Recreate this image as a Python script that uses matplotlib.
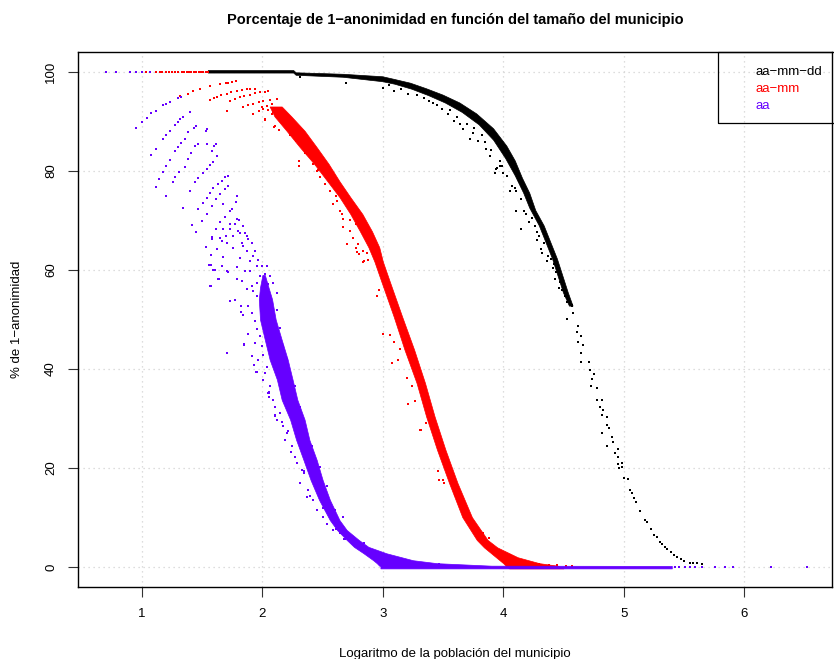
import numpy as np
import matplotlib
matplotlib.use("Agg")
import matplotlib.pyplot as plt
from matplotlib.patches import Rectangle

plt.rcParams['font.family'] = ['Liberation Sans', 'DejaVu Sans']

# colores de las series
col_dd = '#000000'
col_mm = '#ff0000'
col_aa = '#6600ff'

labels = ['aa\u2212mm\u2212dd', 'aa\u2212mm', 'aa']

# ---------------- aa-mm-dd (negro) ----------------
# contorno del núcleo denso: borde superior y luego borde inferior (vuelta)
dd_edge_x = [1.55, 2.26, 2.28, 2.67, 3.00, 3.09, 3.23, 3.36, 3.50, 3.64, 3.78, 3.92, 4.03,
             4.10, 4.16, 4.22, 4.27, 4.34, 4.45, 4.54, 4.58,
             4.55, 4.50, 4.41, 4.30, 4.22, 4.17, 4.10, 4.02, 3.92, 3.80, 3.66, 3.52, 3.38,
             3.24, 3.10, 3.00, 2.67, 2.28, 2.26, 1.55]
dd_edge_y = [100.25, 100.25, 99.8, 99.5, 99.0, 98.5, 97.7, 96.6, 95.3, 93.7, 91.5, 88.5, 85.0,
             82.0, 78.5, 75.5, 72.0, 68.9, 62.2, 55.4, 52.7,
             52.7, 55.4, 62.2, 68.9, 72.5, 75.5, 79.0, 82.5, 86.2, 89.3, 91.8, 93.7, 95.2,
             96.5, 97.5, 98.0, 98.9, 99.3, 99.75, 99.75]
# puntos sueltos
dd_x = [2.31, 2.69, 3.00, 3.09, 3.21, 3.34, 3.42, 3.49, 3.54, 3.59, 3.64, 3.67, 3.72,
        3.75, 3.79, 3.86, 3.89, 3.93, 3.94, 3.95, 3.97, 3.99, 4.03, 4.06, 4.10, 4.11,
        4.11, 4.13, 4.15, 4.15, 4.17, 4.21, 4.22, 4.28, 4.28, 4.32, 4.33, 4.36, 4.38,
        4.40, 4.43, 4.44, 4.46, 4.51, 4.57,
        3.05, 3.15, 3.28, 3.38, 3.45, 3.56, 3.62, 3.70, 3.76, 3.82, 3.85, 3.90, 3.97,
        4.00, 4.07, 4.19, 4.24, 4.26, 4.30, 4.31, 4.34, 4.37, 4.41, 4.42, 4.47, 4.49,
        4.53, 4.57, 4.58, 4.53, 4.62, 4.61, 4.65, 4.62, 4.66, 4.65, 4.71, 4.65, 4.72,
        4.75, 4.74, 4.78, 4.73, 4.78, 4.82, 4.80, 4.83, 4.82, 4.86, 4.86, 4.88, 4.82,
        4.90, 4.91, 4.86, 4.95, 4.93, 4.95, 4.95, 4.99, 4.99, 4.96, 5.00, 5.04, 5.05,
        5.07, 5.09, 5.10, 5.14, 5.18, 5.19, 5.23, 5.25, 5.28, 5.30, 5.32, 5.34, 5.36,
        5.39, 5.42, 5.44, 5.48, 5.50, 5.55, 5.58, 5.61, 5.65]
dd_y = [98.9, 97.8, 96.8, 96.2, 95.5, 94.8, 93.8, 92.4, 91.4, 90.1, 89.4, 88.4, 86.4,
        87.7, 86.0, 84.4, 83.0, 79.6, 80.4, 80.6, 82.0, 81.0, 79.0, 76.0, 76.6, 71.9,
        75.9, 77.9, 68.2, 74.3, 71.9, 69.6, 73.6, 66.0, 67.6, 63.5, 67.6, 61.8, 64.9,
        62.2, 58.1, 59.5, 56.4, 54.7, 52.7,
        97.3, 96.5, 95.3, 94.2, 93.4, 92.2, 90.8, 89.5, 88.6, 87.2, 85.8, 84.2, 80.9,
        79.5, 77.0, 71.2, 70.5, 68.8, 66.8, 64.2, 65.5, 62.9, 60.4, 61.3, 57.6, 55.9,
        53.6, 53.0, 51.4, 50.0, 48.6, 47.4, 46.6, 45.5, 44.9, 43.3, 41.5, 41.5, 39.9,
        38.9, 37.9, 36.2, 36.6, 33.8, 33.8, 32.4, 31.8, 30.8, 30.4, 28.7, 28.1, 27.1,
        26.3, 25.3, 24.5, 23.9, 23.1, 22.3, 20.9, 21.1, 20.2, 20.0, 18.0, 17.8, 15.6,
        15.0, 14.0, 13.2, 11.3, 9.5, 9.1, 7.7, 6.5, 6.1, 5.1, 4.7, 4.0, 3.6,
        3.0, 2.4, 2.0, 1.6, 1.2, 0.8, 0.8, 0.8, 0.6]

# ---------------- aa-mm (rojo) ----------------
# núcleo denso: para cada nivel y, x izquierda / derecha
mm_band_y = [-0.25, 0.3, 0.8, 2.0, 4.0, 5.5, 10.1, 17.0, 23.7, 30.4, 37.2, 43.9, 50.6,
             57.5, 61.7, 64.6, 67.8, 71.3, 74.7, 77.9, 81.4, 84.8, 88.1, 91.0, 93.0]
mm_band_lo = [4.05, 4.02, 4.00, 3.94, 3.84, 3.78, 3.66, 3.55, 3.45, 3.36, 3.28, 3.18, 3.09,
              2.99, 2.93, 2.88, 2.81, 2.73, 2.64, 2.54, 2.43, 2.31, 2.20, 2.10, 2.06]
mm_band_hi = [4.50, 4.45, 4.30, 4.12, 3.95, 3.87, 3.74, 3.62, 3.52, 3.43, 3.35, 3.26, 3.16,
              3.06, 3.00, 2.97, 2.91, 2.83, 2.73, 2.64, 2.55, 2.45, 2.35, 2.24, 2.16]
mm_x = [1.03, 1.07, 1.12, 1.15, 1.17, 1.20, 1.22, 1.25, 1.27, 1.30, 1.33, 1.35, 1.37,
        1.39, 1.41, 1.43, 1.45, 1.47, 1.49, 1.51, 1.53, 1.55,
        1.316, 1.379, 1.426, 1.482, 1.565, 1.648, 1.70, 1.717, 1.75, 1.781,
        1.565, 1.60, 1.620, 1.66, 1.703, 1.74, 1.786, 1.83, 1.869, 1.90, 1.939,
        1.73, 1.77, 1.81, 1.85, 1.90, 1.94, 1.98, 2.02, 2.05,
        1.841, 1.88, 1.924, 1.97, 2.007, 2.06, 2.118,
        1.924, 1.97, 2.007, 2.04, 2.077, 2.021, 2.077,
        1.703, 2.02, 2.10, 2.14, 2.23, 2.28, 2.30, 2.30, 2.35, 2.39, 2.43, 2.46, 2.51,
        2.55, 2.61, 2.62, 2.66, 2.67, 2.73, 2.78, 2.70, 2.80, 2.84, 2.78,
        2.104, 2.201, 2.243, 2.312, 2.340, 2.368, 2.423, 2.451, 2.479, 2.520, 2.562,
        2.589, 2.645, 2.672, 2.727, 2.755, 2.797, 2.838, 2.880,
        2.00, 2.05, 2.09, 2.12, 2.16, 2.18, 2.25, 2.27, 2.33, 2.36, 2.38,
        2.783, 2.839, 2.866, 2.949, 2.97, 3.003, 3.058, 3.091, 3.080, 3.13, 3.14, 3.20,
        3.21, 3.24, 3.27, 3.31, 3.36, 3.46, 3.47, 3.51, 3.54, 3.60, 3.63, 3.70, 3.75,
        3.83, 3.88, 3.32, 3.50, 4.06, 4.14, 4.19, 4.30, 4.38, 4.45, 4.52, 4.57]
mm_y = [100, 100, 100, 100, 100, 100, 100, 100, 100, 100, 100, 100, 100,
        100, 100, 100, 100, 100, 100, 100, 100, 100,
        95.1, 95.6, 96.1, 96.6, 97.1, 97.6, 97.7, 97.8, 98.0, 98.2,
        94.3, 94.8, 95.0, 95.3, 95.6, 95.9, 96.2, 96.4, 96.6, 96.6, 96.6,
        94.2, 94.6, 94.9, 95.2, 95.4, 95.7, 95.9, 96.0, 96.1,
        92.8, 93.2, 93.6, 93.9, 94.2, 94.4, 94.6,
        91.5, 92.0, 92.5, 93.0, 93.5, 90.5, 91.5,
        92.0, 90.3, 88.9, 88.2, 87.2, 86.0, 82.0, 81.0, 83.7, 83.4, 82.0, 80.1, 79.4,
        78.0, 75.0, 74.0, 71.3, 68.6, 70.0, 69.3, 65.2, 63.2, 61.8, 64.5,
        89.1, 89.5, 88.5, 86.1, 84.8, 83.4, 81.4, 80.0, 78.7, 77.3, 76.0,
        73.3, 71.9, 70.2, 67.9, 66.5, 65.2, 63.8, 62.1,
        92.9, 92.2, 91.8, 90.8, 89.6, 91.0, 89.0, 87.5, 85.8, 86.5, 84.2,
        63.6, 61.6, 63.4, 54.7, 55.9, 47.0, 46.8, 45.4, 41.3, 41.9, 44.0, 38.2,
        32.9, 36.6, 33.5, 27.7, 29.1, 19.5, 17.6, 16.9, 19.0, 14.6, 13.6, 10.4, 8.9,
        6.9, 5.9, 27.7, 17.6, 2.4, 1.5, 1.1, 0.6, 0.4, 0.5, 0.3, 0.3]

# ---------------- aa (morado) ----------------
aa_band_y = [-0.25, 0.25, 0.3, 0.8, 1.4, 2.8, 4.1, 5.5, 7.5, 9.5, 13.6, 17.6, 21.7, 25.7,
             29.8, 33.8, 37.9, 41.9, 45.9, 50.0, 54.1, 56.5, 59.0]
aa_band_lo = [2.98, 2.98, 2.97, 2.95, 2.92, 2.84, 2.76, 2.70, 2.62, 2.56, 2.47, 2.40, 2.34,
              2.28, 2.23, 2.16, 2.12, 2.06, 2.02, 1.98, 1.97, 1.98, 2.00]
aa_band_hi = [5.40, 5.40, 3.90, 3.45, 3.25, 3.03, 2.88, 2.80, 2.70, 2.64, 2.56, 2.50, 2.45,
              2.39, 2.35, 2.29, 2.25, 2.21, 2.16, 2.11, 2.08, 2.05, 2.02]
aa_x = [0.70, 0.78, 0.90, 0.95, 1.00, 1.07,
        0.948, 1.000, 1.038, 1.074, 1.116, 1.174, 1.202, 1.233, 1.299, 1.324, 1.399,
        1.072, 1.116, 1.174, 1.199, 1.233, 1.271, 1.296, 1.316, 1.338,
        1.116, 1.141, 1.174, 1.202, 1.233, 1.271, 1.296, 1.324, 1.354, 1.382, 1.432,
        1.449, 1.532, 1.537,
        1.199, 1.254, 1.274, 1.307, 1.354, 1.382, 1.410, 1.443, 1.465, 1.537, 1.579,
        1.598, 1.612,
        1.338, 1.399, 1.440, 1.468, 1.509, 1.537, 1.565, 1.592, 1.620,
        1.413, 1.468, 1.509, 1.537, 1.565, 1.592, 1.628, 1.662, 1.689, 1.717,
        1.448, 1.496, 1.537, 1.579, 1.615, 1.648, 1.689, 1.712,
        1.531, 1.579, 1.615, 1.648, 1.689, 1.731, 1.781, 1.786,
        1.573, 1.620, 1.662, 1.698, 1.731, 1.773, 1.809, 1.842,
        1.570, 1.604, 1.640, 1.576, 1.662, 1.709, 1.731, 1.820, 1.703, 1.847, 1.911,
        1.952, 2.002, 2.055,
        1.554, 1.565, 1.629, 1.593, 1.670, 1.717, 1.773, 1.823, 1.842, 1.878, 1.848,
        1.931, 1.947, 2.052, 2.105, 2.238, 2.349, 2.396, 2.506, 2.612, 2.678,
        1.675, 1.731, 1.759, 1.800, 1.828, 1.870, 1.897, 1.925, 1.953, 1.980, 1.814,
        1.856, 1.786, 1.911, 1.953, 1.870, 1.759, 1.703, 1.648, 1.620, 1.579, 1.786,
        1.745, 1.675, 1.856, 1.884, 1.994,
        1.814, 1.869, 1.911, 1.938, 1.966, 1.994, 2.022, 2.049, 1.842, 1.897, 1.952,
        2.008, 1.786, 1.828, 1.925,
        1.883, 1.911, 1.938, 1.952, 1.980, 1.938, 1.994, 2.008, 1.966, 2.035, 2.022,
        2.063, 2.049, 2.091, 2.105, 2.146, 2.119, 2.174, 2.202, 2.188, 2.243, 2.271,
        2.285, 2.326, 2.312, 2.381, 2.368, 2.423, 2.451, 2.506, 2.534, 2.589, 2.644,
        2.700, 2.755,
        2.119, 2.146, 2.174, 2.202, 2.271, 2.312, 2.353, 2.409, 2.478, 2.534, 2.603,
        2.119, 2.091, 2.063, 2.035,
        2.058, 2.058, 2.104, 2.166, 2.21, 2.348, 2.575, 2.617, 2.672, 2.686, 2.84,
        3.01, 3.09, 3.23, 3.32, 3.47,
        5.43, 5.46, 5.51, 5.55, 5.59, 5.65, 5.76, 5.84, 5.91, 6.22, 6.52]
aa_y = [100, 100, 100, 100, 100, 100,
        88.7, 89.9, 90.7, 91.6, 92.1, 93.2, 93.6, 94.0, 94.7, 95.0, 91.8,
        83.2, 84.4, 86.4, 87.2, 88.1, 89.3, 89.9, 90.5, 90.8,
        76.8, 78.3, 79.8, 81.0, 82.2, 84.0, 84.8, 85.6, 86.4, 87.9, 88.7,
        89.1, 88.1, 88.4,
        75.0, 77.7, 78.7, 79.8, 80.7, 82.4, 83.6, 85.0, 85.4, 85.4, 84.1,
        85.0, 85.4,
        72.5, 76.0, 77.7, 78.5, 79.6, 80.4, 81.2, 81.8, 83.1,
        69.0, 72.3, 73.6, 74.6, 75.6, 76.5, 77.3, 78.0, 78.7, 78.9,
        67.7, 69.9, 71.3, 72.9, 74.3, 75.3, 76.3, 76.9,
        64.6, 66.7, 68.2, 69.6, 70.6, 71.9, 73.7, 75.0,
        63.0, 64.2, 65.9, 66.9, 68.2, 69.2, 70.1, 68.9,
        60.9, 60.0, 58.1, 56.7, 60.8, 59.8, 53.7, 51.5, 43.3, 45.1, 42.6,
        39.3, 37.7, 35.2,
        61.0, 56.7, 58.1, 59.9, 62.6, 59.5, 54.0, 52.8, 51.0, 47.0, 44.9,
        40.9, 39.3, 35.3, 30.8, 23.3, 19.1, 14.4, 11.9, 7.8, 5.7,
        68.2, 69.2, 66.9, 67.9, 65.5, 63.8, 61.8, 62.8, 60.8, 58.8, 62.5,
        59.8, 58.1, 56.7, 54.7, 56.1, 64.5, 65.5, 66.5, 64.2, 66.2, 70.2,
        72.3, 73.3, 67.5, 66.2, 56.1,
        67.5, 66.9, 65.5, 63.8, 62.1, 60.8, 59.1, 57.1, 64.8, 59.8, 57.4,
        55.1, 60.5, 57.8, 55.7,
        52.7, 51.4, 49.7, 48.0, 46.6, 45.3, 44.6, 42.9, 41.9, 40.5, 39.2,
        36.5, 35.2, 33.8, 32.4, 31.1, 29.8, 28.4, 27.1, 25.7, 24.4, 22.3,
        21.0, 19.6, 16.9, 15.6, 14.2, 13.6, 11.5, 10.2, 8.8, 7.5, 6.8,
        6.1, 4.8,
        52.0, 48.3, 44.6, 42.0, 36.5, 32.4, 28.4, 24.4, 20.3, 16.3, 11.6,
        55.4, 57.4, 58.7, 60.8,
        35.3, 34.3, 30.6, 29.3, 27.4, 19.5, 9.9, 8.2, 10.2, 5.6, 4.8,
        2.6, 2.1, 0.9, 0.6, 0.6,
        0, 0, 0, 0, 0, 0, 0, 0, 0, 0, 0]

x_ticks = [1, 2, 3, 4, 5, 6]
y_ticks = [0, 20, 40, 60, 80, 100]

# ---------------- figura ----------------
fig = plt.figure(figsize=(8.34, 6.59), dpi=100)
ax = fig.add_axes([0.0935, 0.1093, 0.9040, 0.8118])

ax.set_xlim(0.468, 6.73)
ax.set_ylim(-4, 104)

# rejilla punteada gris
for xv in x_ticks:
    ax.axvline(xv, color='#d3d3d3', linestyle=(0, (1, 3)), linewidth=0.9, zorder=0)
for yv in y_ticks:
    ax.axhline(yv, color='#d3d3d3', linestyle=(0, (1, 3)), linewidth=0.9, zorder=0)

ms = 1.9 ** 2

# negro
ax.fill(dd_edge_x, dd_edge_y, color=col_dd, linewidth=0.5, zorder=2)
ax.scatter(dd_x, dd_y, s=ms, marker='s', color=col_dd, linewidths=0, zorder=2)
# rojo
ax.fill_betweenx(mm_band_y, mm_band_lo, mm_band_hi, color=col_mm, linewidth=0.5, zorder=3)
ax.scatter(mm_x, mm_y, s=ms, marker='s', color=col_mm, linewidths=0, zorder=3)
# morado
ax.fill_betweenx(aa_band_y, aa_band_lo, aa_band_hi, color=col_aa, linewidth=0.5, zorder=4)
ax.scatter(aa_x, aa_y, s=ms, marker='s', color=col_aa, linewidths=0, zorder=4)

ax.set_xticks(x_ticks)
ax.set_yticks(y_ticks)
ax.set_yticklabels([str(v) for v in y_ticks], rotation=90, va='center')
ax.tick_params(axis='both', direction='out', length=7, width=0.8, labelsize=9.5,
               color='#333333', pad=8)
for sp in ax.spines.values():
    sp.set_linewidth(1.0)

ax.set_xlabel('Logaritmo de la población del municipio', fontsize=9.5, labelpad=20)
ax.set_ylabel('% de 1\u2212anonimidad', fontsize=9.5, labelpad=16)
ax.set_title('Porcentaje de 1\u2212anonimidad en función del tamaño del municipio',
             fontsize=10.5, fontweight='bold', pad=20)

# leyenda (solo texto de color, como en R)
ax.add_patch(Rectangle((0.849, 0.867), 0.2, 0.133, transform=ax.transAxes, fill=False,
                       edgecolor='black', linewidth=0.9, zorder=6, clip_on=False))
for i, (lab, c) in enumerate(zip(labels, [col_dd, col_mm, col_aa])):
    ax.text(0.898, 0.963 - i * 0.032, lab, color=c, fontsize=9.5, transform=ax.transAxes,
            va='center', ha='left', zorder=7)

fig.savefig('out.png', dpi=100)
